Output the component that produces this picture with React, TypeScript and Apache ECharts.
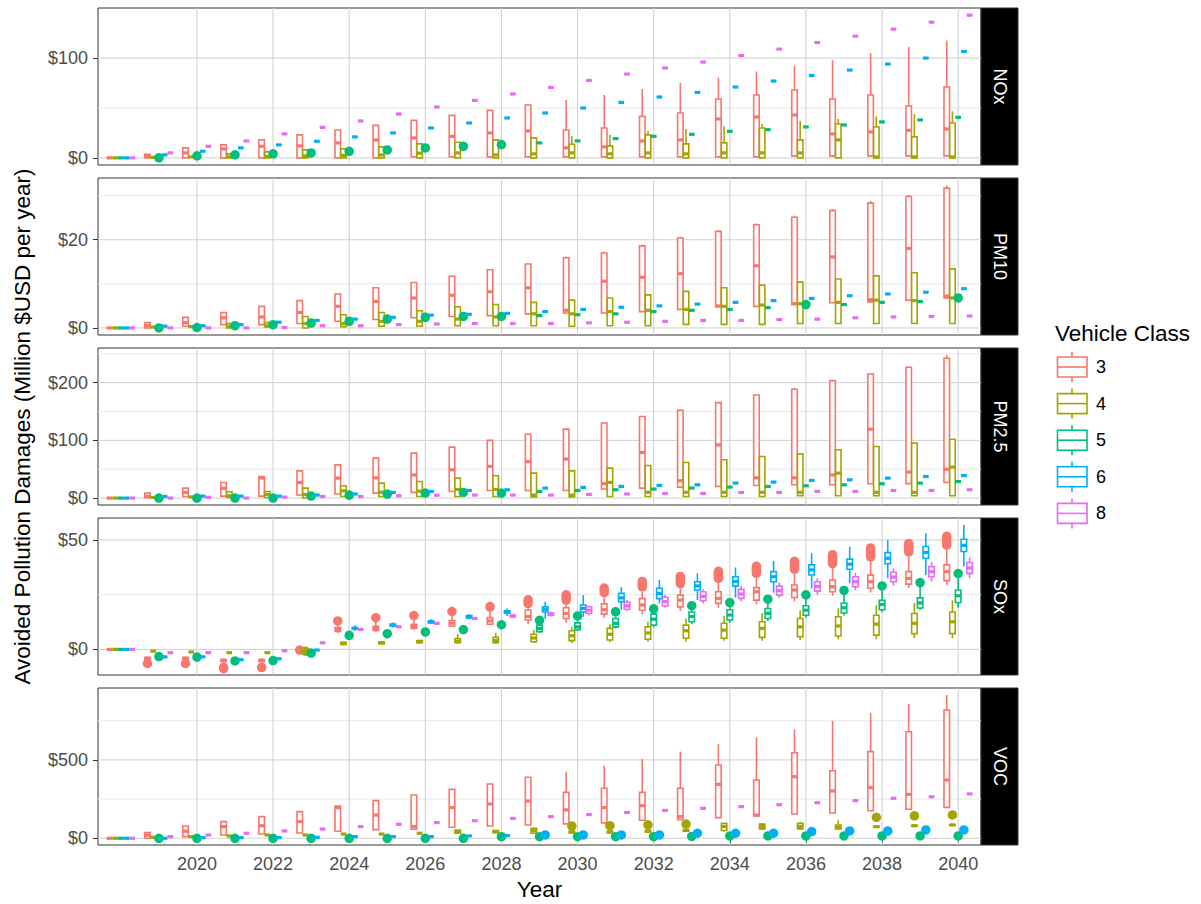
import React, { useEffect, useRef } from 'react';
import * as echarts from 'echarts';

// ---------- categories / labels ----------
const YEARS = [2018, 2019, 2020, 2021, 2022, 2023, 2024, 2025, 2026, 2027, 2028, 2029, 2030, 2031, 2032, 2033, 2034, 2035, 2036, 2037, 2038, 2039, 2040];
const CLASSES = ['3', '4', '5', '6', '8'];
const CLASS_COLORS = ['#F8766D', '#A3A500', '#00BF7D', '#00B0F6', '#E76BF3'];
const POLLUTANTS = ['NOx', 'PM10', 'PM2.5', 'SOx', 'VOC'];
const X_TICKS = [2020, 2022, 2024, 2026, 2028, 2030, 2032, 2034, 2036, 2038, 2040];
const Y_MAJOR = [[0, 100], [0, 20], [0, 100, 200], [0, 50], [0, 500]];
const Y_MINOR = [[50], [10, 30], [50, 150, 250], [25], [250, 750]];
const Y_MIN = [-7.15, -1.6, -12, -11.7, -43];
const Y_MAX = [150.2, 34.0, 260, 60, 959];

// ---------- data: per year either a single value or [low, q1, median, q3, high] ----------
type Box = number | number[];

const NOX_3: Box[] = [0, [0, 0, 2, 3.5, 3.5], [0, 0, 5, 10, 10], [0, 0, 9, 13, 13], [0, 0, 11.6, 18, 18], [0, 0, 12, 23, 23], [0, 0, 15, 28, 28], [0, 0, 18, 32.6, 32.6], [1, 1, 20, 37.6, 37.6], [1, 1, 21.6, 42.6, 42.6], [1, 1, 25, 47.6, 47.6], [1, 1, 27, 53, 53], [1, 1, 10, 28, 58], [1, 1, 11, 30, 63], [1, 1, 17, 41.6, 69], [1, 1, 18, 45, 75], [1, 1, 39, 59, 80.6], [1, 1, 41, 63, 86.6], [2, 2, 43, 68, 92], [2, 2, 24, 59, 98], [2, 2, 26, 63, 105], [2, 2, 27.6, 52, 111], [2, 2, 29, 71, 117.6]];
const NOX_4: Box[] = [0, 0.5, 1, [0, 0, 1, 4, 4], [0, 0, 1.5, 6, 6], [0, 0, 2, 8, 8], [0, 0, 2.5, 9, 9], [0, 0, 3, 11, 11], [0, 0, 4.7, 14, 14], [0, 0, 5, 15.6, 15.6], [0, 0, 3, 18, 18], [0, 0, 4, 20, 20], [0, 0, 5, 13.6, 21.6], [0, 0, 4, 12, 23], [0, 0, 5, 23, 27], [0, 0, 4, 14, 29], [0, 0, 5, 15, 31.6], [0, 0, 5, 30, 34], [0, 0, 5, 18, 37], [0, 0, 18, 34, 39], [0, 0, 1, 31, 41.6], [0, 0, 1, 21, 44], [0, 0, 1, 35, 46.6]];
const NOX_5: Box[] = [0, 0, 2, 3, 4, 5, 6.6, 8, 10, 11.6, 13.3, 15, 17, 19.3, 21.6, 23.6, 26.6, 28.3, 31, 33, 36, 38, 40.6];
const NOX_6: Box[] = [0, 3, 6.6, 10, 13, 16.6, 21, 25, 30, 35, 40, 45, 50, 55.6, 61, 65.6, 71, 77, 82.6, 88, 94, 100, 106.6];
const NOX_8: Box[] = [0, 5, 11.6, 17, 24, 30.6, 37, 44, 51, 57.6, 64, 70.6, 77.6, 84, 90, 96, 102.6, 109, 115.6, 122, 129, 136, 143];

const PM10_3: Box[] = [0, [0, 0, 0.5, 1.2, 1.2], [0.4, 0.4, 1.2, 2.4, 2.4], [0.75, 0.75, 2.3, 3.5, 3.5], [0.75, 0.75, 2.5, 4.9, 4.9], [1, 1, 3.5, 6.2, 6.2], [1.5, 1.5, 4.9, 7.7, 7.7], [1.9, 1.9, 6, 9.1, 9.1], [2.3, 2.3, 6.8, 10.3, 10.3], [2.6, 2.6, 7.4, 11.7, 11.7], [2.8, 2.8, 8.2, 13.2, 13.2], [3.2, 3.2, 9.1, 14.5, 14.5], [3.4, 3.4, 4, 15.9, 16.2], [3.4, 3.4, 10.6, 17, 17.3], [3.7, 3.7, 11.5, 18.6, 18.9], [4.2, 4.2, 12.3, 20.4, 20.7], [4.8, 4.8, 5, 21.9, 22.2], [4.9, 4.9, 14.1, 23.4, 23.7], [5.3, 5.3, 5.5, 25.1, 25.5], [5.7, 5.7, 16.1, 26.6, 27], [5.9, 5.9, 6.4, 28.3, 28.8], [6.3, 6.3, 18, 29.8, 30.2], [6.8, 6.8, 7.2, 31.7, 32.3]];
const PM10_4: Box[] = [0, 0.2, 0.3, [0, 0, 0.4, 1, 1], [0.2, 0.2, 0.5, 1.2, 1.2], [0, 0, 1, 2.6, 2.6], [0.3, 0.3, 1, 3, 3], [0.4, 0.4, 1.5, 3.5, 3.5], [0.4, 0.4, 1.5, 3.9, 3.9], [0.5, 0.5, 2, 4.8, 4.8], [0.5, 0.5, 2.5, 5.3, 5.3], [0.5, 0.5, 3.2, 5.8, 5.8], [0.4, 0.4, 3.2, 6.3, 6.3], [0.5, 0.5, 3.7, 6.8, 6.8], [0.5, 0.5, 4, 7.5, 7.5], [0.8, 0.8, 4.2, 8.3, 8.3], [0.8, 0.8, 4.9, 9.1, 9.1], [0.8, 0.8, 5.2, 9.7, 9.7], [1, 1, 5.5, 10.4, 10.4], [1, 1, 5.8, 11.1, 11.1], [1, 1, 6.3, 11.8, 11.8], [1, 1, 6.2, 12.5, 12.5], [1, 1, 6.8, 13.4, 13.4]];
const PM10_5: Box[] = [0, 0, 0.1, 0.5, 0.75, 1.1, 1.5, 2, 2.4, 2.6, 2.6, 2.8, 3, 3.2, 3.7, 4, 4.2, 4.6, 5.3, 5.3, 5.8, 6, 6.8];
const PM10_6: Box[] = [0, 0.4, 0.5, 0.75, 1.3, 1.7, 2, 2.4, 2.9, 3.1, 3.3, 3.7, 4.2, 4.7, 5, 5.4, 5.8, 6.2, 6.7, 7.3, 7.7, 8.1, 8.9];
const PM10_8: Box[] = [0, 0, 0, 0, 0.1, 0.5, 0.5, 0.75, 0.9, 1, 1, 1, 1.15, 1.3, 1.5, 1.7, 1.7, 1.9, 2, 2.3, 2.5, 2.6, 2.7];

const PM25_3: Box[] = [0, [0.5, 0.5, 3, 8.6, 8.6], [2.8, 2.8, 9.8, 17.3, 17.3], [3.4, 3.4, 17, 27, 27], [3.4, 3.4, 35, 37.4, 37.4], [5.2, 5.2, 27, 47.2, 47.2], [7, 7, 34.6, 57.6, 57.6], [8.6, 8.6, 35, 69.2, 69.2], [9.8, 9.8, 40, 77.8, 77.8], [11.5, 11.5, 49, 88.2, 88.2], [13.2, 13.2, 55, 100, 100.9], [13.2, 13.2, 63.3, 110.7, 110.7], [13.2, 13.2, 67.5, 119.4, 119.4], [15.6, 15.6, 25, 130, 131.5], [17.3, 17.3, 78.9, 141.2, 142], [19, 19, 30, 152, 153.5], [20.2, 20.2, 92.2, 165.4, 166], [21.9, 21.9, 35, 178.7, 179.5], [23, 23, 35, 188.6, 191], [23, 23, 40, 203.5, 204.5], [24.8, 24.8, 119.4, 215, 216], [25, 25, 45, 226.6, 228], [27, 27, 50, 242.2, 248]];
const PM25_4: Box[] = [0, 1, 2, [0, 1, 4, 11, 11], [1, 1, 6, 11.5, 11.5], [0, 0, 6, 17.3, 17.3], [2.8, 2.8, 12.6, 21.3, 21.3], [2.8, 2.8, 10, 25.9, 25.9], [2.8, 2.8, 12, 28.7, 28.7], [2.8, 2.8, 15, 34.6, 34.6], [2.8, 2.8, 15, 38.6, 38.6], [2, 2, 5.2, 43.2, 43.2], [2, 2, 5, 47.2, 47.2], [2.8, 2.8, 27.1, 51.9, 51.9], [2.8, 2.8, 10, 56.4, 56.4], [2.8, 2.8, 10, 61.6, 61.6], [2.8, 2.8, 10, 66.3, 66.3], [2.8, 2.8, 10, 72, 72], [4, 4, 10, 76.6, 76.6], [4, 4, 43.2, 83.6, 83.6], [4, 4, 10, 89.3, 89.3], [4, 4, 10, 95.2, 95.2], [4, 4, 53.6, 102, 102]];
const PM25_5: Box[] = [0, 0, 0, 0, 0, 3.4, 5.2, 7, 8.6, 9.8, 8.6, 11.5, 13.2, 14.4, 15.6, 17.3, 19, 20.2, 21.3, 23, 24.8, 25.9, 28.7];
const PM25_6: Box[] = [0, 2.8, 3.4, 3.4, 3.4, 5.2, 7, 9.8, 11.5, 13.2, 14.4, 17.3, 18.5, 20.2, 22, 23, 25.9, 27.7, 30.6, 31.7, 34.6, 37.4, 39];
const PM25_8: Box[] = [0, 0, 1.2, 0, 1.7, 2.8, 2.8, 4, 5, 5.2, 5.2, 5.2, 6.3, 7, 8, 8, 9.8, 9.8, 11.5, 11.5, 13.2, 13.2, 14.4];

const SOX_3: Box[] = [0, [-5, -4.5, -4, -3.7, -3.4], [-5, -4.5, -4, -3.7, -3.4], [-6, -5.5, -5, -4.6, -4.2], [-6, -5.5, -5, -4.6, -4.2], 0, [7.5, 8.2, 9, 10, 11], [8.1, 8.6, 9.6, 10.5, 12.6], [9.1, 9.6, 10.5, 11.5, 13.3], [10.2, 10.7, 12, 13.2, 15.2], [11, 11.5, 13, 14.5, 17.1], [11.5, 13.4, 15, 18, 18.7], [12.2, 14.1, 16.4, 19, 20.3], [14.5, 16.1, 18.1, 20.8, 23.7], [16, 17.9, 20.3, 23.2, 26.4], [17.5, 19.4, 22.5, 24.8, 27.9], [19, 21, 23.3, 26.3, 30.2], [20.5, 22.5, 26.3, 28.2, 32.5], [22, 23.7, 27.1, 29.4, 34.4], [24.5, 26.3, 28.6, 31.7, 37], [26, 27.9, 30.9, 33.9, 40.1], [28, 29.8, 32.4, 35.5, 42.4], [29.5, 31.4, 35.5, 38.6, 45.4]];
const SOX_4: Box[] = [0, -0.8, -1.2, -1.5, -1.5, [-2, -1.5, -0.8, 0, 0.5], [1.8, 2.2, 2.7, 3.2, 3.5], [2.2, 2.6, 3, 3.5, 3.9], [2.7, 3.1, 3.5, 4, 4.4], [2.5, 3, 3.8, 5, 7], [2.5, 3, 4, 5.5, 7.5], [2.9, 3.5, 5.2, 6.9, 8.9], [2.9, 4, 6.2, 8.5, 10.3], [3.2, 4.3, 6.9, 9.6, 11.5], [3.5, 4.6, 7.5, 10.3, 12.6], [3.5, 5.1, 8.5, 11.1, 14.1], [3.9, 5.1, 8.8, 11.9, 15.2], [3.9, 5.5, 9.6, 12.6, 16.6], [4.3, 5.8, 10.3, 14.1, 17.9], [4.6, 6.1, 10.7, 14.9, 18.7], [4.6, 6.5, 11.5, 15.6, 20.1], [5.1, 7.2, 11.9, 16.4, 21.2], [5.1, 7.2, 12.6, 17.1, 22.4]];
const SOX_5: Box[] = [0, -3.4, -3.4, -5, -5, -1.5, 6.4, 7, 8, 9, 11, [7.5, 8.1, 9.6, 11.1, 12], [8.4, 9, 10.3, 12.1, 13.4], [9.5, 10.3, 11.9, 14.1, 14.9], [10, 11.1, 13.8, 16.1, 16.6], [11.5, 12.6, 15, 17.1, 18.3], [12, 13.4, 15.7, 18.1, 19.8], [13, 14.1, 16.5, 18.7, 21.3], [14.5, 15.6, 17.9, 19.9, 23.3], [15.5, 16.6, 19, 21.2, 25.3], [17, 18.1, 20.5, 22.4, 27.4], [18, 18.9, 21.2, 23.5, 28.9], [19, 21.4, 24.5, 27.1, 33]];
const SOX_6: Box[] = [0, -3.4, -3.4, -4.7, -4.3, -0.3, [8.5, 9.2, 9.6, 10, 11], [10, 10.6, 11.1, 11.6, 12.3], [11.5, 12.1, 12.6, 13.1, 13.8], [13.8, 14.4, 14.9, 15.4, 16.2], [15.2, 16.5, 17.1, 17.6, 18.7], [14, 17.1, 18.2, 19.4, 21.8], [14.9, 17.1, 18.7, 20.3, 24.8], [18.1, 21.8, 23.5, 25.6, 28.4], [21, 23.2, 25.5, 27.9, 31.7], [22.5, 27.1, 29, 30.9, 34.7], [23.7, 28.9, 31, 33.2, 37.4], [25.9, 30.9, 33.2, 35.5, 40.4], [27.9, 34, 36.3, 38.6, 43.9], [30.2, 36.6, 38.9, 41.2, 46.9], [32.5, 39.1, 41.6, 44.2, 49.9], [34, 41.6, 44.3, 47, 53], [37.8, 44.7, 47.5, 50.3, 56.8]];
const SOX_8: Box[] = [0, -1.5, -1.5, -1.5, -0.6, 3, 9.1, 10.3, 11.9, 14.1, [14.5, 14.9, 15.2, 15.6, 16], [15, 15.6, 16, 16.6, 17.2], [15.5, 16.5, 17.9, 19.5, 20], [17.5, 18.3, 19.9, 21.5, 22.5], [19, 19.8, 21.8, 23.8, 25], [21, 22.2, 24.2, 26.3, 27.5], [22, 23.3, 25.3, 27.4, 29], [23.5, 24.8, 26.8, 28.9, 30.5], [25, 26.6, 28.7, 30.9, 32.5], [27, 28.6, 30.9, 33.2, 35], [29, 30.9, 33, 35.2, 37], [31, 33.2, 35.5, 37.8, 40], [32.5, 34.7, 37.2, 39.7, 41.9]];

const VOC_3: Box[] = [0, [0, 0, 20, 35.7, 35.7], [10.6, 10.6, 45, 78.5, 78.5], [21.3, 21.3, 74, 106, 106], [27.6, 27.6, 80, 138, 138], [34, 34, 106, 170, 170], [45, 45, 195, 206, 206], [55, 55, 148, 240, 240], [57.7, 57.7, 74, 276, 276], [70, 70, 196, 312, 312], [78.5, 78.5, 219, 346, 346], [85, 85, 238, 389, 389], [91.6, 91.6, 181, 293, 425], [98, 98, 196, 319, 463], [115, 115, 208, 293, 506], [119, 119, 138, 319, 553], [132, 132, 344, 468, 600], [142, 142, 148, 372, 644], [155, 155, 393, 546, 696], [161, 161, 302, 431, 749], [176, 176, 323, 553, 801], [185, 185, 280, 680, 857], [197, 197, 372, 819, 914]];
const VOC_4: Box[] = [0, 6, 10, 15, 21, 21, 27, 27, 32, [32, 32, 42, 53, 53], [35, 35, 42, 50, 50], [32, 32, 48, 64, 64], [35, 35, 40, 45, 45], [35, 35, 40, 45, 45], [40, 40, 45, 50, 50], [45, 45, 50, 55, 55], [42, 50, 75, 95, 95], [53, 60, 75, 90, 95], [53, 60, 75, 95, 106], [55, 60, 70, 85, 115], [70, 72, 74, 76, 78], [76, 78, 80, 82, 84], [80, 83, 85, 87, 90]];
const VOC_5: Box[] = [0, 0, 0, 0, 0, 0, 0, 0, 0, 0, 10, 10, 10, 10, 10, 12, 15, 15, 15, 15, 15, 15, 15];
const VOC_6: Box[] = [0, 0, 4, 4, 4, 6, 10.6, 10.6, 10.6, 15, 17, 21, 21, 21, 21, 32, 32, 32, 43, 47, 47, 53, 53];
const VOC_8: Box[] = [0, 10.6, 21, 32, 47, 59, 74, 89, 100, 112, 127, 138, 151, 165, 178, 191, 202, 214, 227, 240, 255, 265, 283];

// ---------- outlier clusters: [year, bottom, top] ----------
const NOX_5_OUT = [[2019, 0, 0], [2020, 2, 2], [2021, 3, 3], [2022, 4, 4], [2023, 5, 5], [2024, 6.6, 6.6], [2025, 8, 8], [2026, 10, 10], [2027, 11.6, 11.6], [2028, 13.3, 13.3]];
const PM10_5_OUT = [[2019, 0, 0], [2020, 0.1, 0.1], [2021, 0.5, 0.5], [2022, 0.75, 0.75], [2023, 1.1, 1.1], [2024, 1.5, 1.5], [2025, 2, 2], [2026, 2.4, 2.4], [2027, 2.6, 2.6], [2028, 2.6, 2.6], [2036, 5.3, 5.3], [2040, 6.8, 6.8]];
const PM25_5_OUT = [[2019, 0, 0], [2020, 0, 0], [2021, 0, 0], [2022, 0, 0], [2023, 3.4, 3.4], [2024, 5.2, 5.2], [2025, 7, 7], [2026, 8.6, 8.6], [2027, 9.8, 9.8], [2028, 8.6, 8.6]];
const SOX_3_OUT = [[2019, -7.9, -5], [2020, -7.9, -5], [2021, -11, -6], [2022, -10.5, -6], [2023, -0.3, -0.3], [2024, 11.1, 14.9], [2025, 12.6, 16.4], [2026, 13.3, 17.6], [2027, 15.2, 19.4], [2028, 17.1, 21.7], [2029, 18.7, 24.8], [2030, 20.3, 27.1], [2031, 23.7, 30.2], [2032, 26.4, 33.2], [2033, 27.9, 35.5], [2034, 30.2, 37.8], [2035, 32.5, 40.1], [2036, 34.4, 42.4], [2037, 37, 45.4], [2038, 40.1, 48.5], [2039, 42.4, 50.5], [2040, 45.4, 53.8]];
const SOX_4_OUT = [[2023, -0.8, -0.8]];
const SOX_5_OUT = [[2019, -4.6, -2], [2020, -5, -2], [2021, -7.2, -3.4], [2022, -6.8, -3.4], [2023, -3.4, 0], [2024, 4.3, 8.5], [2025, 5.1, 9.2], [2026, 5.8, 10.1], [2027, 7, 11.1], [2028, 9.1, 13.4], [2029, 12, 14.6], [2030, 13.4, 17.1], [2031, 14.9, 19.4], [2032, 16.6, 20.4], [2033, 18.3, 21.6], [2034, 19.8, 23], [2035, 21.3, 24.5], [2036, 23.3, 26.5], [2037, 25.3, 28.5], [2038, 27.4, 30.6], [2039, 28.9, 32.1], [2040, 33, 36.3]];
const VOC_4_OUT = [[2030, 55, 100], [2031, 55, 106], [2032, 59, 112], [2033, 64, 117], [2038, 110, 158], [2039, 117, 170], [2040, 123, 175]];
const VOC_5_OUT = [[2019, 0, 0], [2020, 0, 0], [2021, 0, 0], [2022, 0, 0], [2023, 0, 0], [2024, 0, 0], [2025, 0, 0], [2026, 0, 0], [2027, 0, 0], [2028, 10, 10], [2029, 10, 10], [2030, 10, 10], [2031, 10, 10], [2032, 10, 10], [2033, 12, 12], [2034, 15, 15], [2035, 15, 15], [2036, 15, 15], [2037, 15, 15], [2038, 15, 15], [2039, 15, 15], [2040, 15, 15]];
const VOC_6_OUT = [[2029, 21, 21], [2030, 21, 21], [2031, 21, 21], [2032, 21, 21], [2033, 32, 32], [2034, 32, 32], [2035, 32, 32], [2036, 43, 43], [2037, 47, 47], [2038, 47, 47], [2039, 53, 53], [2040, 53, 53]];

const BOXES = [
  [NOX_3, NOX_4, NOX_5, NOX_6, NOX_8],
  [PM10_3, PM10_4, PM10_5, PM10_6, PM10_8],
  [PM25_3, PM25_4, PM25_5, PM25_6, PM25_8],
  [SOX_3, SOX_4, SOX_5, SOX_6, SOX_8],
  [VOC_3, VOC_4, VOC_5, VOC_6, VOC_8],
];
const OUTLIERS: number[][][][] = [
  [[], [], NOX_5_OUT, [], []],
  [[], [], PM10_5_OUT, [], []],
  [[], [], PM25_5_OUT, [], []],
  [SOX_3_OUT, SOX_4_OUT, SOX_5_OUT, [], []],
  [[], VOC_4_OUT, VOC_5_OUT, VOC_6_OUT, []],
];

// ---------- layout / style ----------
const FONT = '"Liberation Sans", Arial, Helvetica, sans-serif';
const PLOT_LEFT = 98;
const PLOT_W = 883;
const PANEL_TOP = 8;
const PANEL_H = 157;
const PANEL_STEP = 170;
const STRIP_W = 37;
const X_MIN = 2017.4;
const X_MAX = 2040.6;
const DODGE = 0.15;
const BOX_W = 0.145;
const LW = 1.6;
const MED_LW = 3.2;
const DOT_D = 9.5;
const GRID_MAJOR = '#cfcfcf';
const GRID_MINOR = '#e8e8e8';

function boxRenderer(color: string) {
  return (params: any, api: any) => {
    const x = api.value(0);
    const lo = api.coord([x, api.value(1)]);
    const q1 = api.coord([x, api.value(2)]);
    const md = api.coord([x, api.value(3)]);
    const q3 = api.coord([x, api.value(4)]);
    const hi = api.coord([x, api.value(5)]);
    const w = api.size([BOX_W, 0])[0];
    const cx = lo[0];
    const st = { stroke: color, lineWidth: LW, fill: null };
    return {
      type: 'group',
      children: [
        { type: 'line', shape: { x1: cx, y1: hi[1], x2: cx, y2: q3[1] }, style: st },
        { type: 'line', shape: { x1: cx, y1: q1[1], x2: cx, y2: lo[1] }, style: st },
        { type: 'rect', shape: { x: cx - w / 2, y: q3[1], width: w, height: Math.max(q1[1] - q3[1], 0) }, style: { fill: '#ffffff', stroke: color, lineWidth: LW } },
        { type: 'line', shape: { x1: cx - w / 2, y1: md[1], x2: cx + w / 2, y2: md[1] }, style: { stroke: color, lineWidth: MED_LW } },
      ],
    };
  };
}

function blobRenderer(color: string) {
  return (params: any, api: any) => {
    const x = api.value(0);
    const a = api.coord([x, api.value(1)]);
    const b = api.coord([x, api.value(2)]);
    const top = Math.min(a[1], b[1]);
    const bot = Math.max(a[1], b[1]);
    const cx = a[0];
    if (bot - top <= DOT_D) {
      return { type: 'circle', shape: { cx, cy: (top + bot) / 2, r: DOT_D / 2 }, style: { fill: color } };
    }
    return { type: 'rect', shape: { x: cx - DOT_D / 2, y: top, width: DOT_D, height: bot - top, r: DOT_D / 2 }, style: { fill: color } };
  };
}

function hLineRenderer(color: string) {
  return (params: any, api: any) => {
    const cs = params.coordSys;
    const y = api.coord([X_MIN, api.value(1)])[1];
    return { type: 'line', shape: { x1: cs.x, y1: y, x2: cs.x + cs.width, y2: y }, style: { stroke: color, lineWidth: 1 } };
  };
}
function vLineRenderer(color: string) {
  return (params: any, api: any) => {
    const cs = params.coordSys;
    const x = api.coord([api.value(0), 0])[0];
    return { type: 'line', shape: { x1: x, y1: cs.y, x2: x, y2: cs.y + cs.height }, style: { stroke: color, lineWidth: 1 } };
  };
}

function buildOption() {
  const grid: any[] = [];
  const xAxis: any[] = [];
  const yAxis: any[] = [];
  const series: any[] = [];
  const graphic: any[] = [];
  const last = POLLUTANTS.length - 1;

  POLLUTANTS.forEach((name, p) => {
    const top = PANEL_TOP + p * PANEL_STEP;
    grid.push({ left: PLOT_LEFT, top, width: PLOT_W, height: PANEL_H, show: true, borderColor: '#333333', borderWidth: 1, backgroundColor: '#ffffff' });
    const isLast = p === last;
    xAxis.push({
      type: 'value', gridIndex: p, min: X_MIN, max: X_MAX,
      axisLine: { show: false }, splitLine: { show: false },
      axisTick: { show: isLast, customValues: X_TICKS, length: 5, lineStyle: { color: '#333333' } },
      axisLabel: { show: isLast, customValues: X_TICKS, formatter: (v: number) => String(Math.round(v)), fontSize: 18, color: '#4d4d4d', margin: 10, fontFamily: FONT },
      name: isLast ? 'Year' : '', nameLocation: 'middle', nameGap: 33,
      nameTextStyle: { fontSize: 22.5, color: '#000000', fontFamily: FONT },
    });
    yAxis.push({
      type: 'value', gridIndex: p, min: Y_MIN[p], max: Y_MAX[p],
      axisLine: { show: false }, splitLine: { show: false },
      axisTick: { show: true, customValues: Y_MAJOR[p], length: 5, lineStyle: { color: '#333333' } },
      axisLabel: { customValues: Y_MAJOR[p], formatter: (v: number) => '$' + String(Math.round(v)), fontSize: 18, color: '#4d4d4d', margin: 10, fontFamily: FONT },
    });

    // grid lines
    series.push({ type: 'custom', xAxisIndex: p, yAxisIndex: p, z: 1, silent: true, renderItem: hLineRenderer(GRID_MINOR), data: Y_MINOR[p].map((v) => [X_MIN, v]) });
    series.push({ type: 'custom', xAxisIndex: p, yAxisIndex: p, z: 1, silent: true, renderItem: hLineRenderer(GRID_MAJOR), data: Y_MAJOR[p].map((v) => [X_MIN, v]) });
    series.push({ type: 'custom', xAxisIndex: p, yAxisIndex: p, z: 1, silent: true, renderItem: vLineRenderer(GRID_MAJOR), data: X_TICKS.map((v) => [v, 0]) });

    CLASSES.forEach((cls, c) => {
      const off = (c - 2) * DODGE;
      const color = CLASS_COLORS[c];
      series.push({
        type: 'custom', name: cls, xAxisIndex: p, yAxisIndex: p, z: 3, clip: true, silent: true,
        renderItem: blobRenderer(color),
        data: OUTLIERS[p][c].map((o) => [o[0] + off, o[1], o[2]]),
      });
      series.push({
        type: 'custom', name: cls, xAxisIndex: p, yAxisIndex: p, z: 3, clip: true, silent: true,
        renderItem: boxRenderer(color),
        data: YEARS.map((yr, i) => {
          const b = BOXES[p][c][i];
          const v = typeof b === 'number' ? [b, b, b, b, b] : b;
          return [yr + off, v[0], v[1], v[2], v[3], v[4]];
        }),
      });
    });

    // facet strip
    graphic.push({ type: 'rect', shape: { x: PLOT_LEFT + PLOT_W, y: top, width: STRIP_W, height: PANEL_H }, style: { fill: '#000000', stroke: '#333333', lineWidth: 1 } });
    graphic.push({
      type: 'text', x: PLOT_LEFT + PLOT_W + STRIP_W / 2, y: top + PANEL_H / 2, rotation: -Math.PI / 2,
      style: { text: name, fill: '#ffffff', font: '18px ' + FONT, align: 'center', verticalAlign: 'middle', textAlign: 'center', textVerticalAlign: 'middle' },
    });
  });

  // y axis title
  graphic.push({
    type: 'text', x: 22, y: PANEL_TOP + (PANEL_STEP * 4 + PANEL_H) / 2, rotation: Math.PI / 2,
    style: { text: 'Avoided Pollution Damages (Million $USD per year)', fill: '#000000', font: '22.5px ' + FONT, align: 'center', verticalAlign: 'middle', textAlign: 'center', textVerticalAlign: 'middle' },
  });

  // legend
  graphic.push({ type: 'text', x: 1055, y: 333, style: { text: 'Vehicle Class', fill: '#000000', font: '22.5px ' + FONT, align: 'left', verticalAlign: 'middle', textAlign: 'left', textVerticalAlign: 'middle' } });
  CLASSES.forEach((cls, c) => {
    const cy = 367 + c * 36.6;
    const color = CLASS_COLORS[c];
    graphic.push({ type: 'line', shape: { x1: 1072, y1: cy - 15, x2: 1072, y2: cy + 15 }, style: { stroke: color, lineWidth: LW } });
    graphic.push({ type: 'rect', shape: { x: 1057.5, y: cy - 10, width: 29.5, height: 20 }, style: { fill: '#ffffff', stroke: color, lineWidth: LW } });
    graphic.push({ type: 'line', shape: { x1: 1057.5, y1: cy, x2: 1087, y2: cy }, style: { stroke: color, lineWidth: LW } });
    graphic.push({ type: 'text', x: 1096, y: cy, style: { text: cls, fill: '#000000', font: '18px ' + FONT, align: 'left', verticalAlign: 'middle', textAlign: 'left', textVerticalAlign: 'middle' } });
  });

  return {
    animation: false,
    backgroundColor: '#ffffff',
    textStyle: { fontFamily: FONT },
    grid, xAxis, yAxis, series, graphic,
  };
}

export default function App() {
  const ref = useRef<HTMLDivElement>(null);
  useEffect(() => {
    if (!ref.current) return;
    const chart = echarts.init(ref.current, null, { renderer: 'svg' });
    chart.setOption(buildOption());
    return () => chart.dispose();
  }, []);
  return <div ref={ref} style={{ position: 'absolute', left: 0, top: 0, width: 1201, height: 904, background: '#ffffff' }} />;
}
